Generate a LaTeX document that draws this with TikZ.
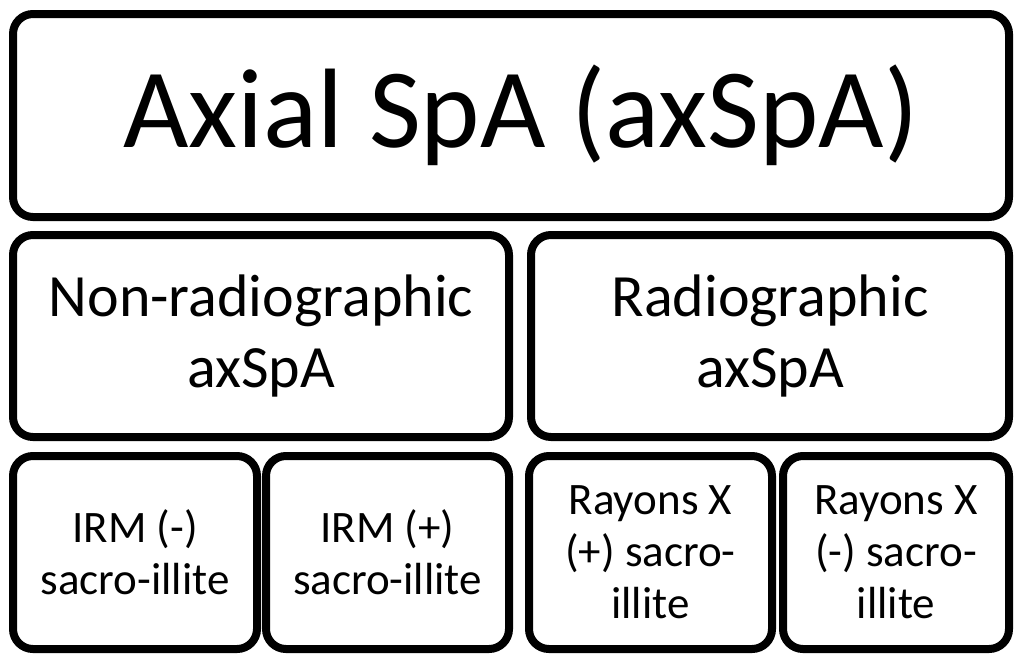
\documentclass[tikz,border=0pt]{standalone}
\usepackage{fontspec}
\setmainfont{Carlito}
\begin{document}
\begin{tikzpicture}[x=1pt,y=-1pt,
  box/.style={draw=black,line width=8pt,rounded corners=20pt,fill=white,
    inner sep=0pt,align=center,anchor=center},
  big/.style={font=\fontsize{113}{136}\selectfont},
  mid/.style={font=\fontsize{60}{71}\selectfont},
  small/.style={font=\fontsize{45}{52}\selectfont}]
\useasboundingbox (0,0) rectangle (1018,654);
% top level
\node[box,big,minimum width=996pt,minimum height=203pt] (axspa) at (511,115.5) {\hspace*{20pt}Axial SpA (axSpA)};
% second level
\node[box,mid,minimum width=496pt,minimum height=202pt] (nonrad) at (261,336) {Non-radiographic\\axSpA};
\node[box,mid,minimum width=478pt,minimum height=202pt] (rad) at (770,336) {Radiographic\\axSpA};
% third level
\node[box,small,minimum width=244pt,minimum height=193pt] (irmneg) at (135,552.5) {IRM (-)\\sacro-illite};
\node[box,small,minimum width=243pt,minimum height=193pt] (irmpos) at (387.5,552.5) {IRM (+)\\sacro-illite};
\node[box,small,minimum width=243pt,minimum height=193pt] (rxpos) at (650.5,552.5) {Rayons X\\(+) sacro-\\illite};
\node[box,small,minimum width=226pt,minimum height=193pt] (rxneg) at (896,552.5) {Rayons X\\(-) sacro-\\illite};
\end{tikzpicture}
\end{document}
